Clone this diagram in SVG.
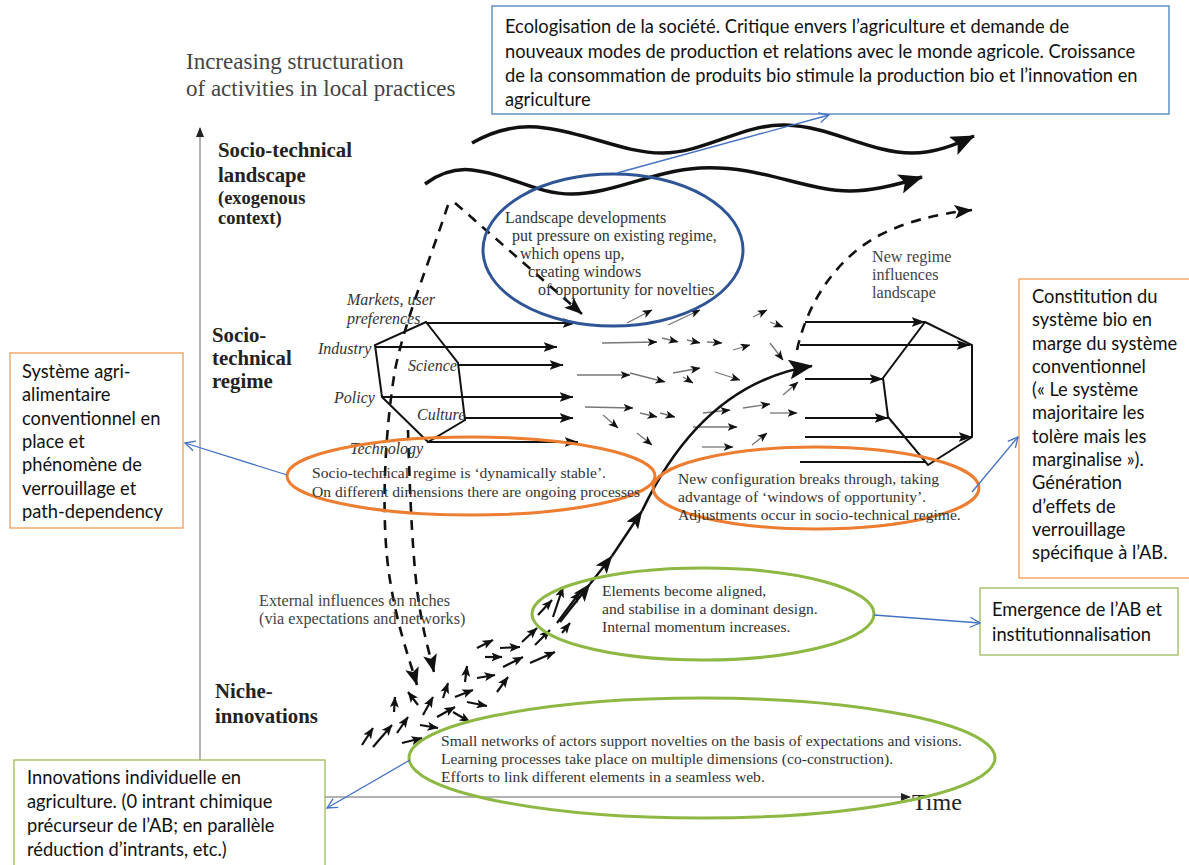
<svg xmlns="http://www.w3.org/2000/svg" width="1189" height="865" viewBox="0 0 1189 865">
<defs>
<style>
.ann{font-family:Lato,"Liberation Sans",sans-serif;font-size:18.3px;fill:#111}
.ser{font-family:"Liberation Serif",serif;font-size:15.6px;fill:#333}
.ser2{font-family:"Liberation Serif",serif;font-size:16px;fill:#333}
.ser3{font-family:"Liberation Serif",serif;font-size:16.2px;fill:#444}
.lab{font-family:"Liberation Serif",serif;font-weight:bold;font-size:20.8px;fill:#222}
.lab2{font-family:"Liberation Serif",serif;font-weight:bold;font-size:18.5px;fill:#222}
.it{font-family:"Liberation Serif",serif;font-style:italic;font-size:16px;fill:#333}
.ax{font-family:"Liberation Serif",serif;font-size:23px;fill:#444}
.blk{stroke:#111;fill:none;stroke-width:2}
.thin{stroke:#777;stroke-width:1.3;fill:none}
.niche{stroke:#111;stroke-width:2.2;fill:none}
.dash{stroke:#111;stroke-width:2.6;fill:none;stroke-dasharray:10 8}
.wave{stroke:#111;stroke-width:3.5;fill:none}
.conn{stroke:#4472C4;stroke-width:1.3;fill:none}
.axis{stroke:#999;stroke-width:1.5;fill:none}
</style>
<marker id="hs" viewBox="0 0 10 8" refX="9.5" refY="4" markerWidth="10" markerHeight="8" orient="auto" markerUnits="userSpaceOnUse"><path d="M0,0 L10,4 L0,8 L2.5,4 z" fill="#111"/></marker>
<marker id="hn" viewBox="0 0 11 9" refX="10.5" refY="4.5" markerWidth="11" markerHeight="9" orient="auto" markerUnits="userSpaceOnUse"><path d="M0,0 L11,4.5 L0,9 L2.5,4.5 z" fill="#111"/></marker>
<marker id="hm" viewBox="0 0 14 10" refX="13.5" refY="5" markerWidth="14" markerHeight="10" orient="auto" markerUnits="userSpaceOnUse"><path d="M0,0 L14,5 L0,10 L3,5 z" fill="#111"/></marker>
<marker id="hb" viewBox="0 0 18 14" refX="17.5" refY="7" markerWidth="18" markerHeight="14" orient="auto" markerUnits="userSpaceOnUse"><path d="M0,0 L18,7 L0,14 L4,7 z" fill="#111"/></marker>
<marker id="hw" viewBox="0 0 24 20" refX="23" refY="10" markerWidth="24" markerHeight="20" orient="auto" markerUnits="userSpaceOnUse"><path d="M0,0 L24,10 L0,20 L5,10 z" fill="#111"/></marker>
<marker id="hblue" viewBox="0 0 12 12" refX="11" refY="6" markerWidth="12" markerHeight="12" orient="auto" markerUnits="userSpaceOnUse"><path d="M1,1 L11,6 L1,11" fill="none" stroke="#4472C4" stroke-width="1.3"/></marker>
<marker id="hax" viewBox="0 0 10 8" refX="9" refY="4" markerWidth="10" markerHeight="8" orient="auto" markerUnits="userSpaceOnUse"><path d="M0,0 L10,4 L0,8 z" fill="#222"/></marker>
</defs>
<rect x="0" y="0" width="1189" height="865" fill="#fff"/>

<g id="axes">
<line class="axis" x1="200" y1="797" x2="200" y2="128" marker-end="url(#hax)"/>
<line class="axis" x1="200" y1="797" x2="910" y2="797" marker-end="url(#hax)"/>
<text class="ax" x="186" y="69">Increasing structuration</text>
<text class="ax" x="186" y="96">of activities in local practices</text>
<text class="ax" x="912" y="810" style="font-size:24px;fill:#222">Time</text>
</g>

<g id="level-labels">
<text class="lab" x="218" y="157">Socio-technical</text>
<text class="lab" x="218" y="182">landscape</text>
<text class="lab2" x="218" y="204">(exogenous</text>
<text class="lab2" x="218" y="224">context)</text>
<text class="lab" x="212" y="342">Socio-</text>
<text class="lab" x="212" y="365">technical</text>
<text class="lab" x="212" y="388">regime</text>
<text class="lab" x="215" y="698">Niche-</text>
<text class="lab" x="215" y="723">innovations</text>
</g>

<g id="landscape-waves">
<path class="wave" d="M472,143 C500,127 525,125 545,128 C590,134 625,153 662,153 C705,153 742,124 785,125 C830,126 870,153 912,153 C935,153 955,145 974,136" marker-end="url(#hw)"/>
<path class="wave" d="M425,184 C440,173 455,168 472,170 C510,174 535,194 572,194 C612,194 652,171 700,168 C760,165 805,191 850,191 C875,191 900,184 922,177" marker-end="url(#hw)"/>
</g>

<g id="dashed-influences">
<path class="dash" d="M448,205 C430,260 405,320 395,370 C385,430 380,520 390,580 C397,625 408,655 417,685" marker-end="url(#hb)"/>
<path class="dash" d="M408,430 C410,500 413,570 420,610 C425,640 430,655 434,672" marker-end="url(#hb)"/>
<path class="dash" d="M455,203 L582,314" marker-end="url(#hb)"/>
<path class="dash" d="M797,350 C808,300 838,258 878,236 C905,222 935,214 972,210" marker-end="url(#hb)"/>
</g>

<g id="old-regime">
<polygon class="blk" points="426,322 458,363 465,420 428,442 382,397 375,345"/>
<line class="blk" x1="426" y1="323" x2="576" y2="323" marker-end="url(#hm)"/>
<line class="blk" x1="375" y1="347" x2="557" y2="347" marker-end="url(#hm)"/>
<line class="blk" x1="458" y1="365" x2="563" y2="365" marker-end="url(#hm)"/>
<line class="blk" x1="382" y1="397" x2="573" y2="397" marker-end="url(#hm)"/>
<line class="blk" x1="465" y1="418" x2="573" y2="418" marker-end="url(#hm)"/>
<line class="blk" x1="428" y1="442" x2="578" y2="442" marker-end="url(#hm)"/>
<text class="it" x="347" y="305">Markets, user</text>
<text class="it" x="347" y="324">preferences</text>
<text class="it" x="318" y="354">Industry</text>
<text class="it" x="408" y="371">Science</text>
<text class="it" x="334" y="403">Policy</text>
<text class="it" x="417" y="420">Culture</text>
<text class="it" x="350" y="454">Technology</text>
</g>

<g id="regime-arrows">
<line class="thin" x1="627" y1="323" x2="652" y2="310" marker-end="url(#hs)"/>
<line class="thin" x1="668" y1="325" x2="700" y2="310" marker-end="url(#hs)"/>
<line class="thin" x1="602" y1="343" x2="657" y2="342" marker-end="url(#hs)"/>
<line class="thin" x1="662" y1="338" x2="678" y2="342" marker-end="url(#hs)"/>
<line class="thin" x1="687" y1="340" x2="700" y2="343" marker-end="url(#hs)"/>
<line class="thin" x1="707" y1="342" x2="722" y2="343" marker-end="url(#hs)"/>
<line class="thin" x1="733" y1="350" x2="750" y2="345" marker-end="url(#hs)"/>
<line class="thin" x1="753" y1="317" x2="767" y2="310" marker-end="url(#hs)"/>
<line class="thin" x1="770" y1="322" x2="783" y2="327" marker-end="url(#hs)"/>
<line class="thin" x1="770" y1="343" x2="783" y2="360" marker-end="url(#hs)"/>
<line class="thin" x1="577" y1="375" x2="630" y2="375" marker-end="url(#hs)"/>
<line class="thin" x1="630" y1="373" x2="665" y2="382" marker-end="url(#hs)"/>
<line class="thin" x1="673" y1="373" x2="700" y2="368" marker-end="url(#hs)"/>
<line class="thin" x1="683" y1="377" x2="693" y2="383" marker-end="url(#hs)"/>
<line class="thin" x1="715" y1="372" x2="740" y2="380" marker-end="url(#hs)"/>
<line class="thin" x1="783" y1="395" x2="798" y2="382" marker-end="url(#hs)"/>
<line class="thin" x1="585" y1="407" x2="633" y2="408" marker-end="url(#hs)"/>
<line class="thin" x1="603" y1="415" x2="618" y2="428" marker-end="url(#hs)"/>
<line class="thin" x1="640" y1="413" x2="657" y2="417" marker-end="url(#hs)"/>
<line class="thin" x1="660" y1="413" x2="675" y2="417" marker-end="url(#hs)"/>
<line class="thin" x1="703" y1="413" x2="730" y2="410" marker-end="url(#hs)"/>
<line class="thin" x1="743" y1="408" x2="770" y2="404" marker-end="url(#hs)"/>
<line class="thin" x1="770" y1="413" x2="797" y2="413" marker-end="url(#hs)"/>
<line class="thin" x1="693" y1="427" x2="737" y2="427" marker-end="url(#hs)"/>
<line class="thin" x1="637" y1="433" x2="652" y2="445" marker-end="url(#hs)"/>
<line class="thin" x1="702" y1="447" x2="733" y2="447" marker-end="url(#hs)"/>
<line class="thin" x1="752" y1="445" x2="767" y2="433" marker-end="url(#hs)"/>
</g>

<g id="new-regime">
<polygon class="blk" points="925,322 972,345 972,437 928,465 888,417 883,378"/>
<line class="blk" x1="805" y1="322" x2="925" y2="322" marker-end="url(#hm)"/>
<line class="blk" x1="800" y1="345" x2="970" y2="345" marker-end="url(#hm)"/>
<line class="blk" x1="805" y1="379" x2="883" y2="379" marker-end="url(#hm)"/>
<line class="blk" x1="805" y1="418" x2="888" y2="418" marker-end="url(#hm)"/>
<line class="blk" x1="805" y1="437" x2="972" y2="437" marker-end="url(#hm)"/>
<line class="blk" x1="800" y1="462" x2="926" y2="462"/>
<text class="ser3" x="872" y="262">New  regime</text>
<text class="ser3" x="872" y="280">influences</text>
<text class="ser3" x="872" y="298">landscape</text>
</g>

<g id="niche-arrows">
<line class="niche" x1="362" y1="745" x2="373" y2="728" marker-end="url(#hn)"/>
<line class="niche" x1="373" y1="747" x2="392" y2="725" marker-end="url(#hn)"/>
<line class="niche" x1="397" y1="733" x2="408" y2="717" marker-end="url(#hn)"/>
<line class="niche" x1="402" y1="743" x2="422" y2="738" marker-end="url(#hn)"/>
<line class="niche" x1="420" y1="725" x2="438" y2="728" marker-end="url(#hn)"/>
<line class="niche" x1="394" y1="712" x2="395" y2="697" marker-end="url(#hn)"/>
<line class="niche" x1="418" y1="705" x2="408" y2="692" marker-end="url(#hn)"/>
<line class="niche" x1="423" y1="715" x2="433" y2="697" marker-end="url(#hn)"/>
<line class="niche" x1="437" y1="717" x2="455" y2="707" marker-end="url(#hn)"/>
<line class="niche" x1="453" y1="712" x2="470" y2="722" marker-end="url(#hn)"/>
<line class="niche" x1="443" y1="698" x2="448" y2="683" marker-end="url(#hn)"/>
<line class="niche" x1="455" y1="697" x2="473" y2="690" marker-end="url(#hn)"/>
<line class="niche" x1="467" y1="702" x2="487" y2="706" marker-end="url(#hn)"/>
<line class="niche" x1="465" y1="682" x2="467" y2="666" marker-end="url(#hn)"/>
<line class="niche" x1="477" y1="678" x2="495" y2="675" marker-end="url(#hn)"/>
<line class="niche" x1="497" y1="692" x2="508" y2="677" marker-end="url(#hn)"/>
<line class="niche" x1="477" y1="648" x2="493" y2="640" marker-end="url(#hn)"/>
<line class="niche" x1="485" y1="657" x2="502" y2="657" marker-end="url(#hn)"/>
<line class="niche" x1="500" y1="648" x2="520" y2="647" marker-end="url(#hn)"/>
<line class="niche" x1="503" y1="667" x2="523" y2="657" marker-end="url(#hn)"/>
<line class="niche" x1="522" y1="642" x2="537" y2="628" marker-end="url(#hn)"/>
<line class="niche" x1="530" y1="663" x2="555" y2="652" marker-end="url(#hn)"/>
<line class="niche" x1="535" y1="645" x2="550" y2="630" marker-end="url(#hn)"/>
<line class="niche" x1="538" y1="615" x2="552" y2="600" marker-end="url(#hn)"/>
<line class="niche" x1="553" y1="617" x2="563" y2="587" marker-end="url(#hn)"/>
<line class="niche" x1="557" y1="623" x2="580" y2="592" marker-end="url(#hn)"/>
<line class="niche" x1="562" y1="633" x2="570" y2="623" marker-end="url(#hn)"/>
</g>

<g id="trajectory">
<line class="blk" style="stroke-width:2.4" x1="560" y1="622" x2="590" y2="584" marker-end="url(#hb)"/>
<line class="blk" style="stroke-width:2.4" x1="590" y1="584" x2="612" y2="556" marker-end="url(#hb)"/>
<line class="blk" style="stroke-width:2.4" x1="612" y1="556" x2="642" y2="511" marker-end="url(#hb)"/>
<path class="blk" style="stroke-width:2.6" d="M642,511 C672,448 722,380 812,366" marker-end="url(#hw)"/>
</g>

<g id="landscape-ellipse">
<ellipse cx="613" cy="250" rx="130" ry="76" fill="none" stroke="#2F5597" stroke-width="3"/>
<text class="ser2" x="505" y="223">Landscape  developments</text>
<text class="ser2" x="512" y="241">put pressure on existing regime,</text>
<text class="ser2" x="520" y="259">which opens up,</text>
<text class="ser2" x="528" y="277">creating windows</text>
<text class="ser2" x="538" y="295">of opportunity for novelties</text>
</g>

<g id="regime-ellipse">
<ellipse cx="471" cy="476" rx="184" ry="39" fill="none" stroke="#ED7D31" stroke-width="3"/>
<text class="ser" x="312" y="478">Socio-technical regime  is ‘dynamically stable’.</text>
<text class="ser" x="312" y="497">On different dimensions there are ongoing processes</text>
</g>

<g id="breakthrough-ellipse">
<ellipse cx="816" cy="488" rx="163" ry="41" fill="none" stroke="#ED7D31" stroke-width="3"/>
<text class="ser" x="678" y="484">New configuration breaks through, taking</text>
<text class="ser" x="678" y="502">advantage of ‘windows of opportunity’.</text>
<text class="ser" x="678" y="520">Adjustments occur in socio-technical regime.</text>
</g>

<g id="aligned-ellipse">
<ellipse cx="703" cy="614" rx="171" ry="46" fill="none" stroke="#8DB843" stroke-width="3"/>
<text class="ser" x="602" y="596">Elements become aligned,</text>
<text class="ser" x="602" y="614">and stabilise in a dominant design.</text>
<text class="ser" x="602" y="632">Internal momentum increases.</text>
</g>

<g id="niche-ellipse">
<ellipse cx="702" cy="758" rx="293" ry="60" fill="none" stroke="#8DB843" stroke-width="3"/>
<text class="ser" x="441" y="746">Small networks of actors support novelties on the basis of expectations and visions.</text>
<text class="ser" x="441" y="764">Learning processes take place on multiple dimensions (co-construction).</text>
<text class="ser" x="441" y="782">Efforts to link different elements in a seamless web.</text>
</g>

<g id="external-label">
<text class="ser3" x="259" y="606">External influences on niches</text>
<text class="ser3" x="259" y="624">(via expectations and networks)</text>
</g>

<g id="box-ecologisation">
<rect x="492" y="6" width="677" height="108" fill="#fff" stroke="#4A7EBB" stroke-width="1.3"/>
<text class="ann" x="505" y="33">Ecologisation de la société. Critique envers l’agriculture et demande de</text>
<text class="ann" x="505" y="58">nouveaux modes de production et relations avec le monde agricole. Croissance</text>
<text class="ann" x="505" y="82">de la consommation de produits bio stimule la production bio et l’innovation en</text>
<text class="ann" x="505" y="106">agriculture</text>
</g>

<g id="box-conventionnel">
<rect x="10" y="353" width="173" height="175" fill="#fff" stroke="#F39C54" stroke-width="1.3"/>
<text class="ann" x="22" y="378">Système agri-</text>
<text class="ann" x="22" y="401">alimentaire</text>
<text class="ann" x="22" y="425">conventionnel en</text>
<text class="ann" x="22" y="448">place et</text>
<text class="ann" x="22" y="471">phénomène de</text>
<text class="ann" x="22" y="495">verrouillage et</text>
<text class="ann" x="22" y="518">path-dependency</text>
</g>

<g id="box-bio">
<rect x="1019" y="279" width="180" height="299" fill="#fff" stroke="#F39C54" stroke-width="1.3"/>
<text class="ann" x="1032" y="303">Constitution du</text>
<text class="ann" x="1032" y="326">système bio en</text>
<text class="ann" x="1032" y="350">marge du système</text>
<text class="ann" x="1032" y="373">conventionnel</text>
<text class="ann" x="1032" y="396">(« Le système</text>
<text class="ann" x="1032" y="419">majoritaire les</text>
<text class="ann" x="1032" y="443">tolère mais les</text>
<text class="ann" x="1032" y="466">marginalise »).</text>
<text class="ann" x="1032" y="489">Génération</text>
<text class="ann" x="1032" y="513">d’effets de</text>
<text class="ann" x="1032" y="536">verrouillage</text>
<text class="ann" x="1032" y="559">spécifique à l’AB.</text>
</g>

<g id="box-emergence">
<rect x="980" y="588" width="198" height="67" fill="#fff" stroke="#9BBB59" stroke-width="1.3"/>
<text class="ann" x="992" y="616">Emergence de l’AB et</text>
<text class="ann" x="992" y="641">institutionnalisation</text>
</g>

<g id="box-innovations">
<rect x="14" y="760" width="311" height="115" fill="#fff" stroke="#9BBB59" stroke-width="1.3"/>
<text class="ann" x="27" y="784">Innovations individuelle en</text>
<text class="ann" x="27" y="808">agriculture. (0 intrant chimique</text>
<text class="ann" x="27" y="832">précurseur de l’AB; en parallèle</text>
<text class="ann" x="27" y="856">réduction d’intrants, etc.)</text>
</g>

<g id="connectors">
<line class="conn" x1="617" y1="173" x2="829" y2="115" marker-end="url(#hblue)"/>
<line class="conn" x1="287" y1="475" x2="185" y2="443" marker-end="url(#hblue)"/>
<line class="conn" x1="972" y1="492" x2="1018" y2="437" marker-end="url(#hblue)"/>
<line class="conn" x1="874" y1="615" x2="980" y2="623" marker-end="url(#hblue)"/>
<line class="conn" x1="410" y1="760" x2="327" y2="808" marker-end="url(#hblue)"/>
</g>
</svg>
